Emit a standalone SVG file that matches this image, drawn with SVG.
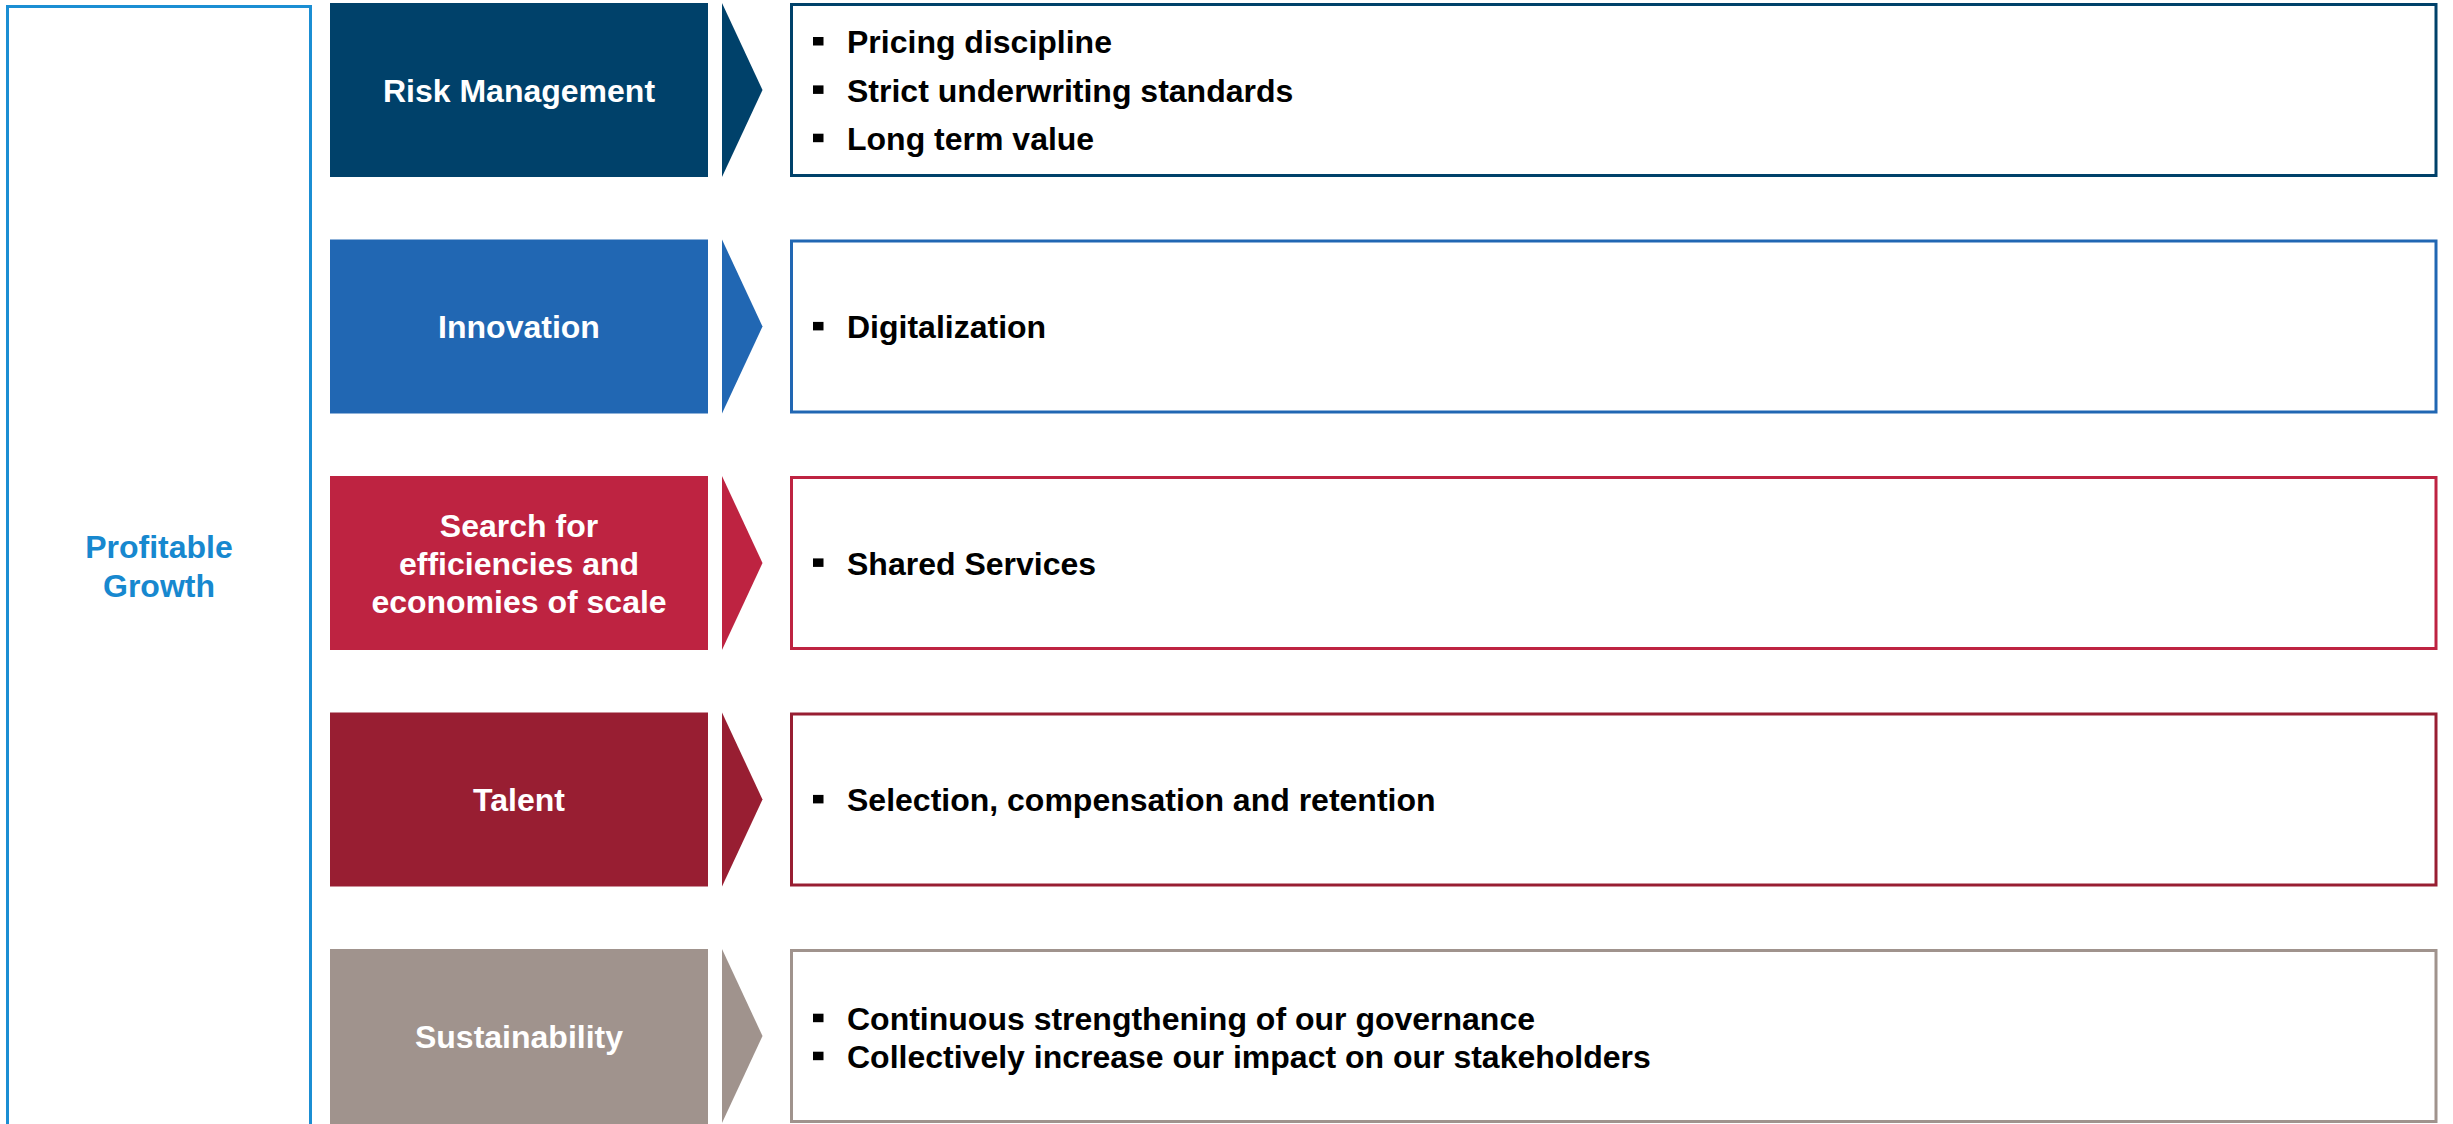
<svg xmlns="http://www.w3.org/2000/svg" width="2453" height="1124" viewBox="0 0 2453 1124">
<style>
text{font-family:"Liberation Sans",Arial,sans-serif;font-weight:bold;font-size:32px}
.lbl{fill:#ffffff;text-anchor:middle}
.blt{fill:#000000}
.bul{fill:#000000}
.box{fill:#ffffff;stroke-width:3}
</style>
<rect x="0" y="0" width="2453" height="1124" fill="#ffffff"/>
<g id="profitable-growth">
<rect x="7.5" y="6.5" width="303" height="1130" fill="#ffffff" stroke="#1B8ED3" stroke-width="3"/>
<text x="159" y="558" fill="#1788CF" text-anchor="middle">Profitable</text>
<text x="159" y="597" fill="#1788CF" text-anchor="middle">Growth</text>
</g>
<g id="connectors">
<polygon points="722,3 762.5,90 722,177" fill="#00416A"/>
<polygon points="722,239.5 762.5,326.5 722,413.5" fill="#2167B3"/>
<polygon points="722,476 762.5,563 722,650" fill="#BE2341"/>
<polygon points="722,712.5 762.5,799.5 722,886.5" fill="#981E32"/>
<polygon points="722,949 762.5,1036 722,1123" fill="#A0938D"/>
</g>
<g id="risk-management">
<rect x="330" y="3" width="378" height="174" fill="#00416A"/>
<text class="lbl" x="519" y="101.7">Risk Management</text>
</g>
<g id="risk-management-details">
<rect class="box" x="791.5" y="4.5" width="1644.5" height="171" stroke="#00416A"/>
<rect class="bul" x="813" y="37" width="10.5" height="8.5"/>
<text class="blt" x="847" y="53.3">Pricing discipline</text>
<rect class="bul" x="813" y="85.4" width="10.5" height="8.5"/>
<text class="blt" x="847" y="101.7">Strict underwriting standards</text>
<rect class="bul" x="813" y="133.7" width="10.5" height="8.5"/>
<text class="blt" x="847" y="150">Long term value</text>
</g>
<g id="innovation">
<rect x="330" y="239.5" width="378" height="174" fill="#2167B3"/>
<text class="lbl" x="519" y="338.2">Innovation</text>
</g>
<g id="innovation-details">
<rect class="box" x="791.5" y="241" width="1644.5" height="171" stroke="#2167B3"/>
<rect class="bul" x="813" y="321.9" width="10.5" height="8.5"/>
<text class="blt" x="847" y="338.2">Digitalization</text>
</g>
<g id="efficiencies">
<rect x="330" y="476" width="378" height="174" fill="#BE2341"/>
<text class="lbl" x="519" y="536.7">Search for</text>
<text class="lbl" x="519" y="574.8">efficiencies and</text>
<text class="lbl" x="519" y="613">economies of scale</text>
</g>
<g id="efficiencies-details">
<rect class="box" x="791.5" y="477.5" width="1644.5" height="171" stroke="#BE2341"/>
<rect class="bul" x="813" y="558.4" width="10.5" height="8.5"/>
<text class="blt" x="847" y="574.7">Shared Services</text>
</g>
<g id="talent">
<rect x="330" y="712.5" width="378" height="174" fill="#981E32"/>
<text class="lbl" x="519" y="811.2">Talent</text>
</g>
<g id="talent-details">
<rect class="box" x="791.5" y="714" width="1644.5" height="171" stroke="#981E32"/>
<rect class="bul" x="813" y="794.9" width="10.5" height="8.5"/>
<text class="blt" x="847" y="811.2">Selection, compensation and retention</text>
</g>
<g id="sustainability">
<rect x="330" y="949" width="378" height="175" fill="#A0938D"/>
<text class="lbl" x="519" y="1047.7">Sustainability</text>
</g>
<g id="sustainability-details">
<rect class="box" x="791.5" y="950.5" width="1644.5" height="171" stroke="#A0938D"/>
<rect class="bul" x="813" y="1013.7" width="10.5" height="8.5"/>
<text class="blt" x="847" y="1030">Continuous strengthening of our governance</text>
<rect class="bul" x="813" y="1051.7" width="10.5" height="8.5"/>
<text class="blt" x="847" y="1068">Collectively increase our impact on our stakeholders</text>
</g>
</svg>
